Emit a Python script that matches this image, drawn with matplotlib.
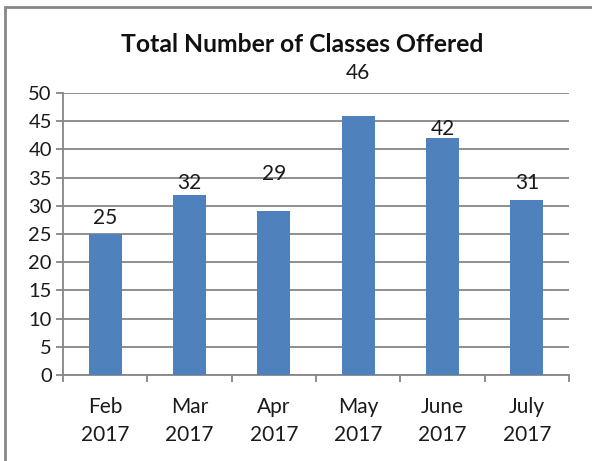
import matplotlib.pyplot as plt
from matplotlib.patches import Rectangle

months = ['Feb\n2017', 'Mar\n2017', 'Apr\n2017', 'May\n2017', 'June\n2017', 'July\n2017']
classes = [25, 32, 29, 46, 42, 31]
# where each data label sits above its bar (in data units), as in the original
label_offsets = [2.8, 2.1, 6.6, 7.6, 1.6, 3.1]

plt.rcParams['font.family'] = ['Lato', 'DejaVu Sans']

fig = plt.figure(figsize=(5.92, 4.61), dpi=100)
ax = fig.add_axes([63 / 592, 1 - 375 / 461, 506 / 592, 282 / 461])

x = range(len(months))
ax.bar(x, classes, width=0.39, color='#4F81BD', zorder=3)
for i, v in enumerate(classes):
    ax.text(i, v + label_offsets[i], str(v), ha='center', va='center',
            fontsize=15, color='#1a1a1a', clip_on=False)

ax.set_xlim(-0.5, len(months) - 0.5)
ax.set_ylim(0, 50)
ax.set_yticks(range(0, 51, 5))
ax.set_xticks(x)
ax.set_xticklabels(months, fontsize=15, color='#1a1a1a', linespacing=1.5)
ax.set_xticks([i - 0.5 for i in range(len(months) + 1)], minor=True)
ax.tick_params(axis='x', which='major', length=0, pad=16)
ax.tick_params(axis='x', which='minor', length=5, width=1.3, color='#868686')
ax.tick_params(axis='y', length=5, width=1.3, color='#868686', labelsize=14.5,
               labelcolor='#1a1a1a', pad=3)
ax.grid(axis='y', color='#868686', linewidth=1.3, zorder=0)

for s in ['top', 'right']:
    ax.spines[s].set_visible(False)
for s in ['left', 'bottom']:
    ax.spines[s].set_color('#868686')
    ax.spines[s].set_linewidth(1.3)

fig.text(302 / 592, 1 - 44 / 461, 'Total Number of Classes Offered',
         ha='center', va='center', fontsize=17.8, fontweight='bold', color='#111111')

fig.patches.append(Rectangle((4.5 / 592, -0.1), 1.2, 1.1 - 7 / 461,
                             transform=fig.transFigure, fill=False,
                             edgecolor='#888888', linewidth=2))

fig.savefig('out.png', dpi=100)
